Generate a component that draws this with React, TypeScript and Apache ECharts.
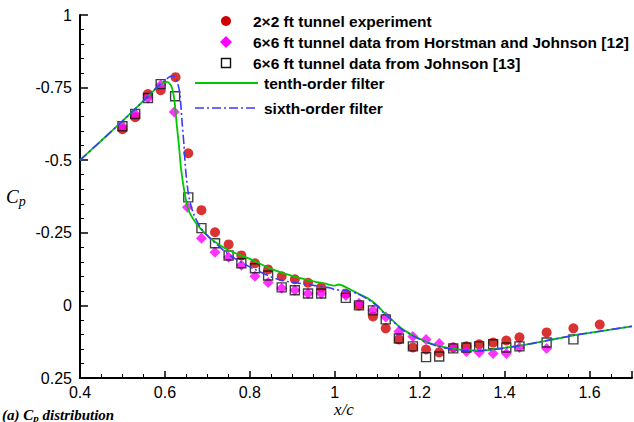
import React, { useEffect, useRef } from "react";
import * as echarts from "echarts";

// 2x2 ft tunnel experiment (red circles)
const expX = [0.5, 0.53, 0.56, 0.59, 0.625, 0.655, 0.686, 0.718, 0.75, 0.78, 0.812, 0.843, 0.875, 0.906, 0.937, 0.968, 1.026, 1.057, 1.09, 1.12, 1.151, 1.184, 1.215, 1.246, 1.279, 1.31, 1.34, 1.373, 1.404, 1.435, 1.499, 1.562, 1.624];
const expCp = [-0.607, -0.648, -0.728, -0.741, -0.786, -0.524, -0.328, -0.252, -0.21, -0.172, -0.145, -0.124, -0.1, -0.09, -0.078, -0.062, -0.041, 0.0, 0.038, 0.079, 0.117, 0.145, 0.152, 0.162, 0.145, 0.141, 0.134, 0.128, 0.121, 0.11, 0.093, 0.079, 0.066];

// 6x6 ft tunnel, Horstman and Johnson (magenta diamonds)
const hjX = [0.5, 0.53, 0.56, 0.59, 0.622, 0.653, 0.686, 0.718, 0.75, 0.78, 0.812, 0.843, 0.875, 0.906, 0.937, 0.968, 1.026, 1.057, 1.09, 1.12, 1.151, 1.184, 1.215, 1.246, 1.279, 1.31, 1.34, 1.373, 1.404, 1.435, 1.499];
const hjCp = [-0.617, -0.659, -0.714, -0.759, -0.666, -0.338, -0.231, -0.183, -0.166, -0.138, -0.1, -0.079, -0.059, -0.052, -0.041, -0.041, -0.034, -0.007, 0.017, 0.04, 0.09, 0.107, 0.117, 0.131, 0.145, 0.159, 0.162, 0.166, 0.166, 0.145, 0.148];

// 6x6 ft tunnel, Johnson (open squares)
const jX = [0.5, 0.53, 0.56, 0.59, 0.624, 0.655, 0.686, 0.718, 0.75, 0.78, 0.812, 0.843, 0.875, 0.906, 0.937, 0.968, 1.026, 1.057, 1.09, 1.12, 1.151, 1.184, 1.215, 1.246, 1.279, 1.31, 1.34, 1.373, 1.404, 1.435, 1.499, 1.562];
const jCp = [-0.617, -0.659, -0.714, -0.762, -0.72, -0.372, -0.266, -0.214, -0.172, -0.145, -0.128, -0.103, -0.062, -0.052, -0.041, -0.041, -0.026, 0.0, 0.017, 0.048, 0.114, 0.141, 0.178, 0.176, 0.148, 0.145, 0.141, 0.134, 0.145, 0.141, 0.128, 0.117];

// tenth-order filter (green solid)
const tenthX = [0.4, 0.45, 0.5, 0.55, 0.58, 0.595, 0.605, 0.615, 0.622, 0.628, 0.633, 0.638, 0.645, 0.655, 0.67, 0.69, 0.715, 0.75, 0.8, 0.85, 0.9, 0.95, 0.98, 0.998, 1.01, 1.03, 1.05, 1.077, 1.1, 1.116, 1.135, 1.156, 1.18, 1.2, 1.23, 1.26, 1.3, 1.34, 1.37, 1.4, 1.45, 1.5, 1.56, 1.62, 1.7];
const tenthCp = [-0.5, -0.567, -0.635, -0.705, -0.748, -0.765, -0.77, -0.755, -0.71, -0.62, -0.55, -0.47, -0.4, -0.33, -0.29, -0.255, -0.222, -0.19, -0.16, -0.126, -0.102, -0.083, -0.074, -0.068, -0.072, -0.06, -0.045, -0.025, 0.0, 0.025, 0.05, 0.078, 0.1, 0.115, 0.133, 0.145, 0.153, 0.155, 0.152, 0.146, 0.135, 0.121, 0.104, 0.09, 0.072];

// sixth-order filter (blue dash-dot)
const sixthX = [0.4, 0.45, 0.5, 0.55, 0.58, 0.6, 0.612, 0.62, 0.628, 0.635, 0.641, 0.645, 0.648, 0.652, 0.657, 0.667, 0.683, 0.7, 0.73, 0.755, 0.81, 0.87, 0.95, 0.99, 1.0, 1.02, 1.05, 1.077, 1.1, 1.116, 1.135, 1.156, 1.18, 1.2, 1.23, 1.26, 1.3, 1.34, 1.37, 1.4, 1.45, 1.5, 1.56, 1.62, 1.7];
const sixthCp = [-0.5, -0.567, -0.635, -0.705, -0.75, -0.775, -0.788, -0.79, -0.775, -0.73, -0.62, -0.55, -0.48, -0.42, -0.37, -0.317, -0.27, -0.24, -0.2, -0.17, -0.125, -0.088, -0.069, -0.06, -0.054, -0.052, -0.042, -0.022, 0.002, 0.027, 0.052, 0.08, 0.102, 0.117, 0.135, 0.147, 0.155, 0.156, 0.153, 0.147, 0.135, 0.121, 0.104, 0.09, 0.072];

const yTicks = [-1, -0.75, -0.5, -0.25, 0, 0.25];
const yTickLabels = ["1", "-0.75", "-0.5", "-0.25", "0", "0.25"];

const legendLabels = [
  "2\u00d72 ft tunnel experiment",
  "6\u00d76 ft tunnel data from Horstman and Johnson [12]",
  "6\u00d76 ft tunnel data from Johnson [13]",
  "tenth-order filter",
  "sixth-order filter",
];

const zip = (xs: number[], ys: number[]) => xs.map((x, i) => [x, ys[i]]);

const RED = "#d00000";
const MAGENTA = "#ff00ff";
const GREEN = "#00c800";
const BLUE = "#3a3aff";
const SANS = "'Liberation Sans', Arial, Helvetica, sans-serif";
const SERIF = "'Liberation Serif', 'Times New Roman', serif";

export default function App() {
  const ref = useRef<HTMLDivElement>(null);
  useEffect(() => {
    if (!ref.current) return;
    const chart = echarts.init(ref.current, null, { renderer: "svg" });
    const legendText = (i: number, x: number, y: number) => ({
      type: "text",
      x,
      y,
      style: {
        text: legendLabels[i],
        font: `bold 15.5px ${SANS}`,
        fill: "#000",
        verticalAlign: "middle",
      },
    });
    chart.setOption({
      animation: false,
      backgroundColor: "#fff",
      grid: { left: 80, right: 2, top: 15, bottom: 44 },
      xAxis: {
        type: "value",
        min: 0.4,
        max: 1.7,
        interval: 0.2,
        axisLine: { show: true, onZero: false, lineStyle: { color: "#000", width: 2 } },
        axisTick: { show: true, inside: true, length: 7, lineStyle: { color: "#000", width: 1.5 } },
        minorTick: { show: true, splitNumber: 4, length: 4, lineStyle: { color: "#000", width: 1 } },
        splitLine: { show: false },
        axisLabel: {
          showMaxLabel: false,
          margin: 6,
          color: "#000",
          fontSize: 16,
          fontFamily: SANS,
          formatter: (v: number) => String(Math.round(v * 10) / 10),
        },
      },
      yAxis: {
        type: "value",
        inverse: true,
        min: -1,
        max: 0.25,
        interval: 0.25,
        axisLine: { show: true, onZero: false, lineStyle: { color: "#000", width: 2 } },
        axisTick: { show: true, inside: true, length: 8, lineStyle: { color: "#000", width: 1.5 } },
        minorTick: { show: true, splitNumber: 5, length: 4, lineStyle: { color: "#000", width: 1 } },
        splitLine: { show: false },
        axisLabel: {
          margin: 8,
          color: "#000",
          fontSize: 16,
          fontFamily: SANS,
          formatter: (v: number) => {
            const idx = yTicks.findIndex((t) => Math.abs(t - v) < 1e-6);
            return idx >= 0 ? yTickLabels[idx] : "";
          },
        },
      },
      series: [
        {
          type: "scatter",
          data: zip(expX, expCp),
          symbol: "circle",
          symbolSize: 10,
          itemStyle: { color: RED },
          z: 2,
        },
        {
          type: "scatter",
          data: zip(hjX, hjCp),
          symbol: "diamond",
          symbolSize: 11,
          itemStyle: { color: MAGENTA },
          z: 3,
        },
        {
          type: "scatter",
          data: zip(jX, jCp),
          symbol: "rect",
          symbolSize: 9,
          itemStyle: { color: "rgba(0,0,0,0)", borderColor: "#111", borderWidth: 1.4 },
          z: 4,
        },
        {
          type: "line",
          data: zip(tenthX, tenthCp),
          showSymbol: false,
          smooth: 0.25,
          lineStyle: { color: GREEN, width: 1.8 },
          z: 5,
        },
        {
          type: "line",
          data: zip(sixthX, sixthCp),
          showSymbol: false,
          smooth: 0.25,
          lineStyle: { color: BLUE, width: 1.6, type: [9, 3, 2, 3] },
          z: 6,
        },
      ],
      graphic: [
        { type: "circle", shape: { cx: 226, cy: 21, r: 5 }, style: { fill: RED } },
        legendText(0, 253, 21),
        { type: "polygon", shape: { points: [[226, 36], [232, 42], [226, 48], [220, 42]] }, style: { fill: MAGENTA } },
        legendText(1, 253, 42),
        { type: "rect", shape: { x: 221.5, y: 58.5, width: 9, height: 9 }, style: { fill: "none", stroke: "#111", lineWidth: 1.4 } },
        legendText(2, 253, 63),
        { type: "line", shape: { x1: 195, y1: 83, x2: 258, y2: 83 }, style: { stroke: GREEN, lineWidth: 1.8 } },
        legendText(3, 264, 83),
        { type: "line", shape: { x1: 195, y1: 108, x2: 258, y2: 108 }, style: { stroke: BLUE, lineWidth: 1.6, lineDash: [9, 3, 2, 3] } },
        legendText(4, 264, 108),
        {
          type: "text",
          x: 6,
          y: 196,
          style: {
            text: "{c|C}{p|p}",
            verticalAlign: "middle",
            rich: {
              c: { font: `italic 19px ${SERIF}`, fill: "#000" },
              p: { font: `italic 14px ${SERIF}`, fill: "#000", padding: [10, 0, 0, 0] },
            },
          },
        },
        {
          type: "text",
          x: 344,
          y: 409,
          style: {
            text: "x/c",
            font: `italic 17px ${SERIF}`,
            fill: "#000",
            align: "center",
            verticalAlign: "middle",
          },
        },
        {
          type: "text",
          x: 2,
          y: 406,
          style: {
            text: "{a|(a) C}{p|p}{a| distribution}",
            verticalAlign: "top",
            rich: {
              a: { font: `bold italic 15px ${SERIF}`, fill: "#000" },
              p: { font: `bold italic 11px ${SERIF}`, fill: "#000", padding: [6, 0, 0, 0] },
            },
          },
        },
      ],
    });
    return () => chart.dispose();
  }, []);
  return <div ref={ref} style={{ width: 634, height: 422, position: "absolute", left: 0, top: 0 }} />;
}
